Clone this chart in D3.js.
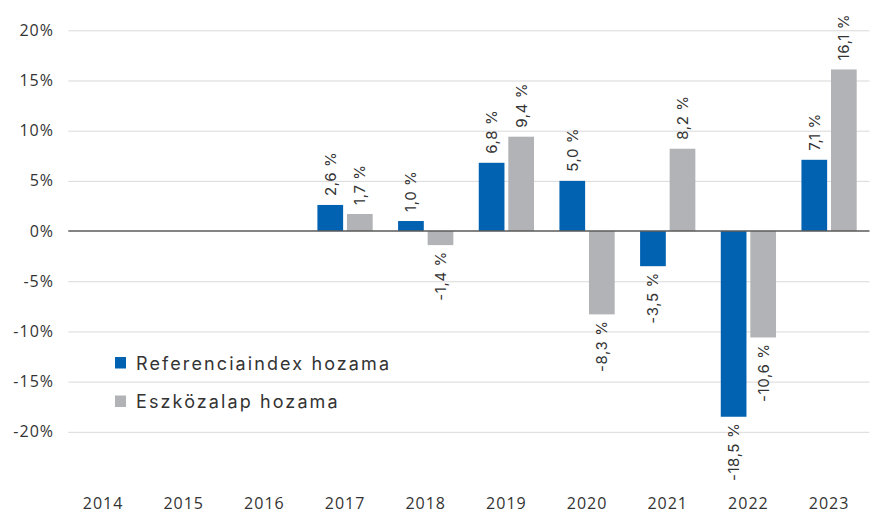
<!DOCTYPE html>
<html>
<head>
<meta charset="utf-8">
<script src="https://cdn.jsdelivr.net/npm/d3@7"></script>
<style>
  html, body { margin: 0; padding: 0; background: #fff; }
  svg { display: block; }
</style>
</head>
<body>
<svg id="chart" width="880" height="516"></svg>
<script>
const years = ["2014","2015","2016","2017","2018","2019","2020","2021","2022","2023"];
const seriesNames = ["Referenciaindex hozama", "Eszközalap hozama"];
const referenceValues = [null, null, null, 2.6, 1.0, 6.8, 5.0, -3.5, -18.5, 7.1];
const fundValues = [null, null, null, 1.7, -1.4, 9.4, -8.3, 8.2, -10.6, 16.1];
const yTicks = [-20, -15, -10, -5, 0, 5, 10, 15, 20];
const colors = ["#0062B1", "#B2B3B6"];

const svg = d3.select("#chart");

const x0 = d3.scaleBand().domain(years).range([62.7, 869.4]).paddingInner(0.315).paddingOuter(0.1575);
const x1 = d3.scaleBand().domain(seriesNames).range([0, x0.bandwidth()]).paddingInner(0.13);
const y = d3.scaleLinear().domain([-25, 20]).range([482, 30.3]);

const fmtLocale = d3.formatLocale({decimal: ",", thousands: " ", grouping: [3], currency: ["", ""], minus: "-"});
const fmt = fmtLocale.format(".1f");

// gridlines
const grid = svg.append("g").attr("class", "grid")
  .attr("transform", "translate(68.3,0)")
  .call(d3.axisLeft(y).tickValues(yTicks.filter(d => d !== 0)).tickSize(-(869.5 - 68.3)).tickFormat(""));
grid.select(".domain").remove();
grid.selectAll(".tick line").attr("stroke", "#d9d9d9").attr("stroke-width", 1);

// y tick labels
const yAxis = svg.append("g")
  .attr("transform", "translate(54,0)")
  .call(d3.axisLeft(y).tickValues(yTicks).tickSize(0).tickPadding(0).tickFormat(d => d + "%"));
yAxis.select(".domain").remove();
yAxis.selectAll("text")
  .attr("font-family", "'Open Sans', sans-serif")
  .attr("font-size", 16)
  .attr("letter-spacing", 1)
  .attr("fill", "#333");

// x labels
const xAxis = svg.append("g")
  .attr("transform", "translate(0,498)")
  .call(d3.axisBottom(x0).tickSize(0).tickPadding(0));
xAxis.select(".domain").remove();
xAxis.selectAll("text")
  .attr("font-family", "'Open Sans', sans-serif")
  .attr("font-size", 16)
  .attr("letter-spacing", 1)
  .attr("fill", "#333");

const data = years.map((yr, i) => ({year: yr, values: [
  {key: seriesNames[0], v: referenceValues[i], c: colors[0]},
  {key: seriesNames[1], v: fundValues[i], c: colors[1]}
]}));

const groups = svg.append("g").selectAll("g").data(data).join("g")
  .attr("transform", d => `translate(${x0(d.year)},0)`);

const items = groups.selectAll("g.item").data(d => d.values.filter(v => v.v !== null)).join("g").attr("class", "item");

items.append("rect")
  .attr("x", d => x1(d.key))
  .attr("width", x1.bandwidth())
  .attr("y", d => y(Math.max(0, d.v)))
  .attr("height", d => Math.abs(y(d.v) - y(0)))
  .attr("fill", d => d.c);

items.append("text")
  .attr("transform", d => {
    const cx = x1(d.key) + x1.bandwidth() / 2;
    const yy = d.v >= 0 ? y(d.v) - 9 : y(d.v) + 6;
    return `translate(${cx},${yy}) rotate(-90)`;
  })
  .attr("text-anchor", d => d.v >= 0 ? "start" : "end")
  .attr("dominant-baseline", "central")
  .attr("font-family", "Inter, sans-serif")
  .attr("font-size", 15)
  .attr("letter-spacing", 0.6)
  .attr("fill", "#333")
  .text(d => fmt(d.v) + " %");

// zero line
svg.append("line")
  .attr("x1", 68.3).attr("x2", 869.5)
  .attr("y1", y(0)).attr("y2", y(0))
  .attr("stroke", "#5a5a5a").attr("stroke-width", 1.5);

// legend
const legend = svg.append("g").selectAll("g").data(seriesNames).join("g")
  .attr("transform", (d, i) => `translate(115,${357 + i * 38.5})`);
legend.append("rect").attr("width", 11).attr("height", 11.5).attr("fill", (d, i) => colors[i]);
legend.append("text")
  .attr("x", 21).attr("y", 12.5)
  .attr("font-family", "Inter, sans-serif")
  .attr("font-size", 18)
  .attr("letter-spacing", 2.1)
  .attr("fill", "#333")
  .text(d => d);
</script>
</body>
</html>
